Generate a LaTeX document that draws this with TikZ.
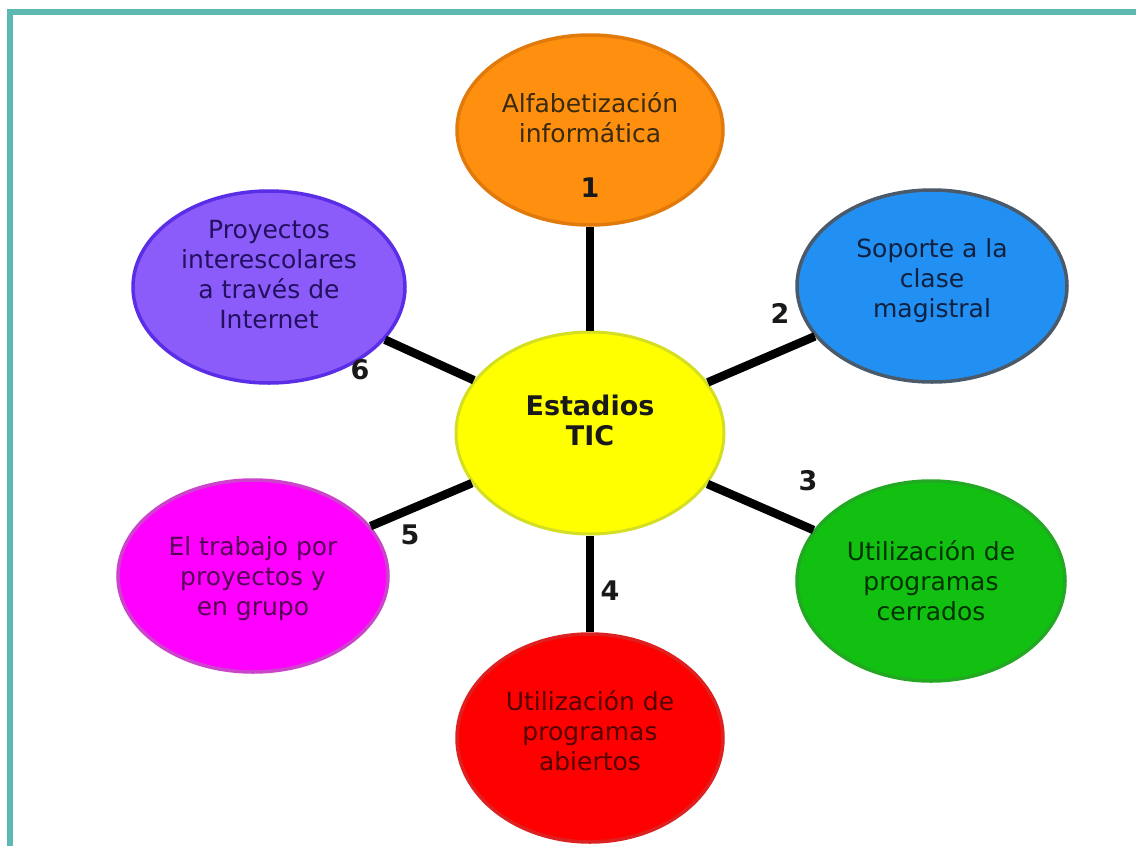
\documentclass[tikz,border=0pt]{standalone}
\usepackage{fontspec}
\setmainfont{DejaVu Sans}
\usepackage{xcolor}
\usetikzlibrary{shapes.geometric}
\definecolor{frm}{HTML}{5CB8B0}
\definecolor{org}{HTML}{FF8F0F}
\definecolor{orgd}{HTML}{E27A0B}
\definecolor{orgt}{HTML}{3A2A10}
\definecolor{blu}{HTML}{2290F2}
\definecolor{blud}{HTML}{4A5A6A}
\definecolor{blut}{HTML}{102040}
\definecolor{pur}{HTML}{8B5CFA}
\definecolor{purd}{HTML}{5A2EE6}
\definecolor{purt}{HTML}{221060}
\definecolor{yel}{HTML}{FFFF00}
\definecolor{yeld}{HTML}{D4DE22}
\definecolor{mag}{HTML}{FF00FF}
\definecolor{magd}{HTML}{CC44CC}
\definecolor{magt}{HTML}{550055}
\definecolor{grn}{HTML}{12C012}
\definecolor{grnd}{HTML}{22A822}
\definecolor{grnt}{HTML}{003300}
\definecolor{rd}{HTML}{FF0000}
\definecolor{rdd}{HTML}{DD2020}
\definecolor{rdt}{HTML}{550000}
\tikzset{
  stg/.style   ={draw, ellipse, line width=3.5pt, inner sep=0pt,
                 minimum width=268pt, minimum height=192pt},
  stgtxt/.style={align=center, font=\fontsize{25}{30}\selectfont},
  num/.style   ={font=\fontsize{27}{30}\selectfont\bfseries, text=black!90},
  lnk/.style   ={line width=8.5pt, draw=black},
}
\begin{document}
\begin{tikzpicture}[x=1pt,y=-1pt]
\useasboundingbox (0,0) rectangle (1136,846);
\fill[white] (0,0) rectangle (1136,846);
\draw[frm, line width=6pt] (10,12) rectangle (1160,870);
\node[stg, draw=yeld, fill=yel, line width=3pt, minimum height=202pt] (tic) at (590,433) {};
\node[stg, draw=orgd, fill=org, minimum width=266pt, minimum height=190pt] (alf) at (590,130) {};
\node[stg, draw=blud, fill=blu, minimum width=270pt] (sop) at (932,286) {};
\node[stg, draw=grnd, fill=grn, minimum height=200pt] (cer) at (931,581) {};
\node[stg, draw=rdd, fill=rd, minimum width=266pt, minimum height=208pt] (abi) at (590,738) {};
\node[stg, draw=magd, fill=mag, minimum width=270pt] (tra) at (253,576) {};
\node[stg, draw=purd, fill=pur, minimum width=272pt] (pro) at (269,287) {};
\draw[lnk] (tic) -- (alf);
\draw[lnk] (tic) -- (sop);
\draw[lnk] (tic) -- (cer);
\draw[lnk] (tic) -- (abi);
\draw[lnk] (tic) -- (tra);
\draw[lnk] (tic) -- (pro);
\node[stgtxt, text=orgt] (talf) at (590,118) {Alfabetización\\informática};
\node[stgtxt, text=blut] (tsop) at (932,281) {Soporte a la\\clase\\magistral};
\node[stgtxt, text=grnt] (tcer) at (931,581) {Utilización de\\programas\\cerrados};
\node[stgtxt, text=rdt] (tabi) at (590,731) {Utilización de\\programas\\abiertos};
\node[stgtxt, text=magt] (ttra) at (253,579) {El trabajo por\\proyectos y\\en grupo};
\node[stgtxt, text=purt] (tpro) at (269,275) {Proyectos\\interescolares\\a través de\\Internet};
\node[stgtxt, font=\fontsize{27}{30}\selectfont\bfseries, text=black!90] (ttic) at (590,420) {Estadios\\TIC};
\node[num] (n1) at (590,188) {1};
\node[num] (n2) at (780,313) {2};
\node[num] (n3) at (808,481) {3};
\node[num] (n4) at (610,591) {4};
\node[num] (n5) at (410,535) {5};
\node[num] (n6) at (360,370) {6};
\end{tikzpicture}
\end{document}
